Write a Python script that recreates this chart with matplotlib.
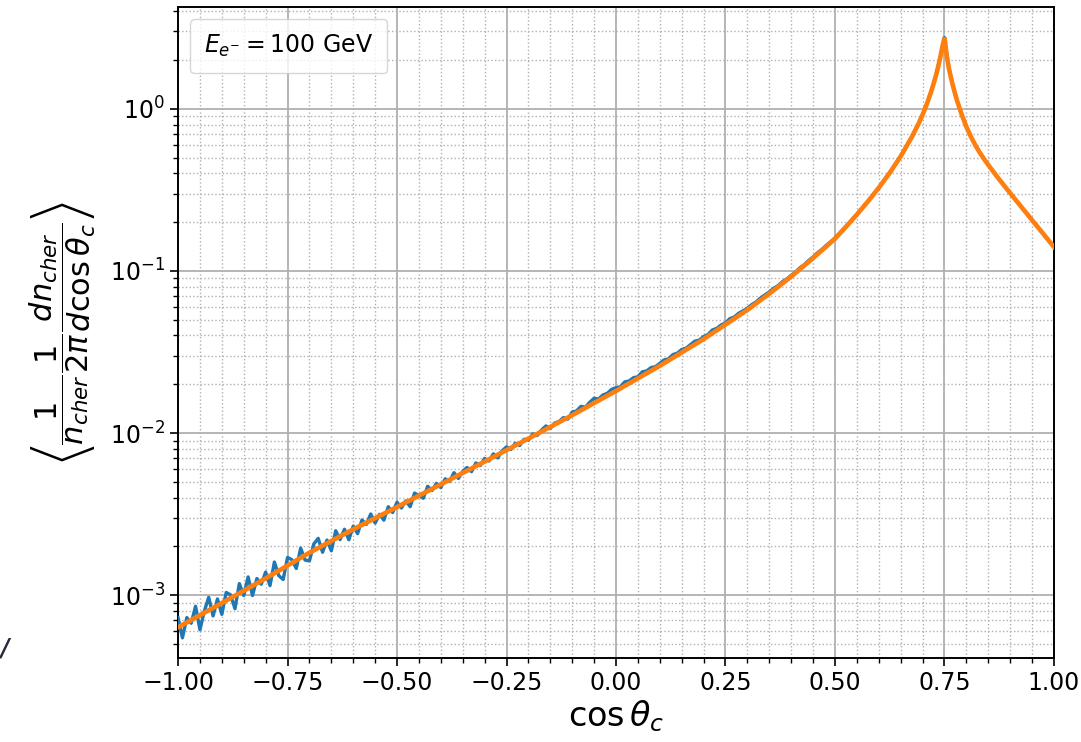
import numpy as np
import matplotlib
matplotlib.use("Agg")
import matplotlib.pyplot as plt
from matplotlib.lines import Line2D
from matplotlib.ticker import MultipleLocator, LogLocator

# Simulated Cherenkov photon angular distribution (histogram, 0.01 bins)
cos_bins = np.linspace(-1.0, 1.0, 201)
sim_density = [
    7.278e-4, 5.458e-4, 7.278e-4, 6.714e-4, 8.551e-4, 6.124e-4, 7.980e-4, 9.705e-4, 7.447e-4, 9.484e-4,
    7.621e-4, 1.040e-3, 1.005e-3, 8.260e-4, 1.180e-3, 9.954e-4, 1.297e-3, 9.954e-4, 1.268e-3, 1.169e-3,
    1.390e-3, 1.146e-3, 1.603e-3, 1.321e-3, 1.250e-3, 1.710e-3, 1.656e-3, 1.462e-3, 1.954e-3, 1.648e-3,
    1.629e-3, 2.070e-3, 2.244e-3, 1.841e-3, 2.188e-3, 1.879e-3, 2.500e-3, 2.203e-3, 2.553e-3, 2.198e-3,
    2.667e-3, 2.399e-3, 2.911e-3, 2.735e-3, 3.170e-3, 2.786e-3, 3.155e-3, 2.904e-3, 3.516e-3, 3.236e-3,
    3.750e-3, 3.451e-3, 3.819e-3, 3.516e-3, 4.266e-3, 4.111e-3, 3.963e-3, 4.699e-3, 4.426e-3, 4.898e-3,
    4.613e-3, 5.224e-3, 5.035e-3, 5.702e-3, 5.248e-3, 5.808e-3, 6.138e-3, 5.781e-3, 6.546e-3, 6.310e-3,
    6.982e-3, 6.730e-3, 7.447e-3, 7.031e-3, 7.780e-3, 8.222e-3, 7.925e-3, 8.670e-3, 8.375e-3, 9.162e-3,
    9.036e-3, 9.886e-3, 9.661e-3, 1.045e-2, 1.107e-2, 1.067e-2, 1.153e-2, 1.180e-2, 1.247e-2, 1.219e-2,
    1.349e-2, 1.371e-2, 1.462e-2, 1.445e-2, 1.549e-2, 1.641e-2, 1.622e-2, 1.718e-2, 1.758e-2, 1.862e-2,
    1.905e-2, 1.930e-2, 2.070e-2, 2.097e-2, 2.198e-2, 2.226e-2, 2.388e-2, 2.418e-2, 2.535e-2, 2.568e-2,
    2.692e-2, 2.828e-2, 2.871e-2, 3.051e-2, 3.112e-2, 3.277e-2, 3.342e-2, 3.511e-2, 3.690e-2, 3.746e-2,
    3.936e-2, 4.055e-2, 4.325e-2, 4.426e-2, 4.645e-2, 4.786e-2, 5.082e-2, 5.200e-2, 5.483e-2, 5.675e-2,
    5.888e-2, 6.201e-2, 6.442e-2, 6.815e-2, 7.112e-2, 7.421e-2, 7.816e-2, 8.121e-2, 8.590e-2, 8.924e-2,
    0.09397, 0.09852, 0.1047, 0.1095, 0.1161, 0.1220, 0.1294, 0.1357, 0.1439, 0.1512,
    0.1600, 0.1706, 0.1820, 0.1950, 0.2094, 0.2239, 0.2410, 0.2594, 0.2799, 0.3027,
    0.3273, 0.3565, 0.3882, 0.4236, 0.4656, 0.5117, 0.5702, 0.6353, 0.7129, 0.8054,
    0.9226, 1.076, 1.288, 1.585, 2.056, 2.754,
    1.778, 1.365, 1.096, 0.912, 0.776, 0.676, 0.600, 0.540, 0.492,
    0.451, 0.415, 0.383, 0.353, 0.3266, 0.302, 0.280, 0.2594, 0.2399, 0.2223,
    0.206, 0.191, 0.177, 0.1637, 0.1517, 0.1406,
]

# Parametrised model curve
cos_model = [
    -1.00, -0.90, -0.80, -0.70, -0.60, -0.50, -0.40, -0.30, -0.20, -0.10,
    0.00, 0.10, 0.20, 0.30, 0.35, 0.40, 0.45, 0.50, 0.525, 0.55,
    0.575, 0.60, 0.625, 0.65, 0.675, 0.69, 0.70, 0.71, 0.72, 0.73,
    0.735, 0.74, 0.745, 0.75, 0.755, 0.76, 0.765, 0.77, 0.775, 0.78,
    0.79, 0.80, 0.81, 0.82, 0.83, 0.84, 0.85, 0.875, 0.90, 0.925,
    0.95, 0.975, 1.00,
]
model_density = [
    6.34e-4, 8.95e-4, 1.27e-3, 1.83e-3, 2.55e-3, 3.50e-3, 4.83e-3, 6.67e-3, 9.25e-3, 1.29e-2,
    1.82e-2, 2.60e-2, 3.80e-2, 5.75e-2, 7.24e-2, 9.23e-2, 0.120, 0.158, 0.1871, 0.2228,
    0.2679, 0.3258, 0.4027, 0.5093, 0.6668, 0.8017, 0.9204, 1.076, 1.288, 1.585,
    1.791, 2.056, 2.399, 2.754, 2.138, 1.778, 1.549, 1.365, 1.216, 1.096,
    0.912, 0.776, 0.676, 0.600, 0.540, 0.492, 0.451, 0.367, 0.302, 0.2495,
    0.206, 0.1702, 0.1406,
]

x_ticks = [-1.00, -0.75, -0.50, -0.25, 0.00, 0.25, 0.50, 0.75, 1.00]
legend_label = r"$E_{e^{-}} = 100$ GeV"

fig = plt.figure(figsize=(10.81, 7.42), dpi=100)
ax = fig.add_axes([0.1647, 0.1132, 0.8103, 0.8774])

ax.plot(cos_bins, sim_density, color="#1f77b4", lw=2.4, zorder=3)
ax.plot(cos_model, model_density, color="#ff7f0e", lw=3.3, zorder=4,
        solid_joinstyle="miter")

ax.set_yscale("log")
ax.set_xlim(-1.0, 1.0)
ax.set_ylim(4.1e-4, 4.25)

ax.set_xticks(x_ticks)
ax.set_xticklabels([f"{t:.2f}".replace("-", "\u2212") for t in x_ticks])
ax.xaxis.set_minor_locator(MultipleLocator(0.05))
ax.yaxis.set_major_locator(LogLocator(base=10, numticks=10))
ax.yaxis.set_minor_locator(LogLocator(base=10, subs=np.arange(2, 10), numticks=20))

ax.grid(which="major", color="#b0b0b0", lw=1.3, ls="-", zorder=0)
ax.grid(which="minor", color="#b0b0b0", lw=1.0, ls=":", zorder=0)
ax.set_axisbelow(True)

ax.tick_params(which="major", labelsize=17, length=6, width=1.2)
ax.tick_params(which="minor", length=3.5, width=1.0)
for sp in ax.spines.values():
    sp.set_linewidth(1.4)

ax.set_xlabel(r"$\cos\theta_c$", fontsize=24, labelpad=2)
ax.set_ylabel(
    r"$\left\langle\dfrac{1}{n_{cher}}\dfrac{1}{2\pi}\dfrac{dn_{cher}}{d\cos\theta_c}\right\rangle$",
    fontsize=22, labelpad=8,
)

handle = Line2D([], [], ls="none")
leg = ax.legend([handle], [legend_label], loc="upper left", fontsize=17,
                handlelength=0, handletextpad=0, borderpad=0.6,
                framealpha=0.8, edgecolor="#cccccc", fancybox=True)

fig.text(0.0, 0.117, "/", fontsize=17, color="#2a2a3a", style="italic", weight="bold")

fig.savefig("out.png", dpi=100)
